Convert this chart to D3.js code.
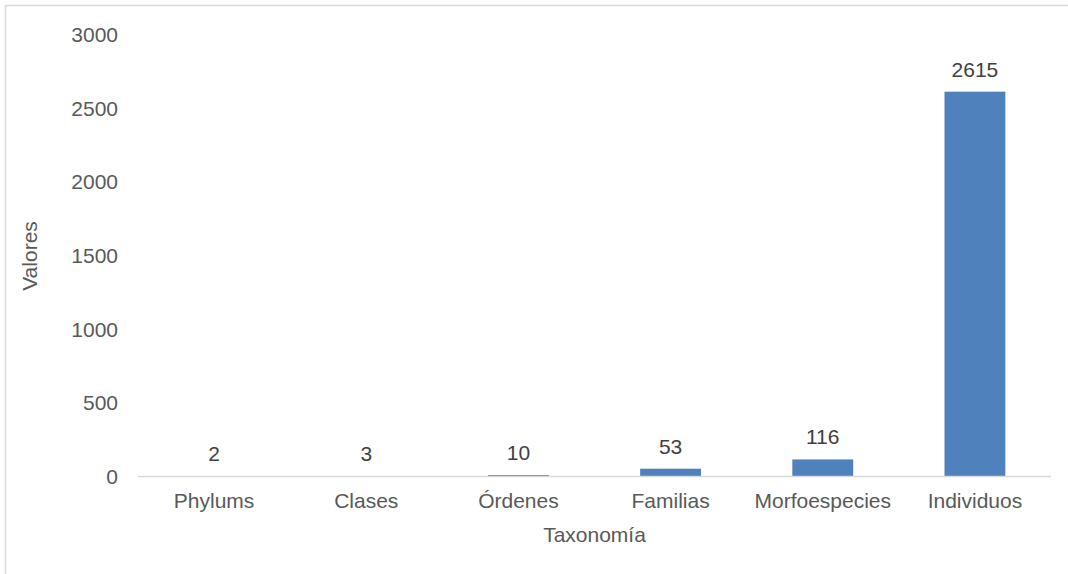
<!DOCTYPE html>
<meta charset="utf-8">
<script src="https://cdn.jsdelivr.net/npm/d3@7"></script>
<style>
  body { margin: 0; background: #fff; }
  text { font-family: "Liberation Sans", Arial, sans-serif; }
</style>
<body>
<script>
// data
var categories = ["Phylums", "Clases", "Órdenes", "Familias", "Morfoespecies", "Individuos"];
var values = [2, 3, 10, 53, 116, 2615];
var yTicks = [0, 500, 1000, 1500, 2000, 2500, 3000];

var W = 1068, H = 574;
var margin = {left: 138, right: 17, top: 35, bottom: 97.5};
var fs = "21px";

var svg = d3.select("body").append("svg")
    .attr("width", W)
    .attr("height", H);

// chart area outline
svg.append("rect")
    .attr("x", 5.5).attr("y", 5.5)
    .attr("width", W + 10).attr("height", H + 10)
    .style("fill", "none")
    .style("stroke", "#d9d9d9")
    .style("stroke-width", 1.5);

var x = d3.scaleBand()
    .domain(categories)
    .range([margin.left, W - margin.right])
    .paddingInner(0.6)
    .paddingOuter(0.3);

var y = d3.scaleLinear()
    .domain([0, 3000])
    .range([H - margin.bottom, margin.top]);

// y axis labels (no line, no ticks)
var yAxis = svg.append("g")
    .attr("transform", "translate(" + margin.left + ",0)")
    .call(d3.axisLeft(y).tickValues(yTicks).tickFormat(d3.format("d")).tickSize(0).tickPadding(20));
yAxis.select(".domain").remove();
yAxis.selectAll("text")
    .style("font-size", fs)
    .style("fill", "#595959");

// bars
svg.selectAll(".bar")
    .data(values)
    .enter().append("rect")
    .attr("class", "bar")
    .attr("x", function(d, i) { return x(categories[i]); })
    .attr("y", function(d) { return y(d); })
    .attr("width", x.bandwidth())
    .attr("height", function(d) { return y(0) - y(d); })
    .style("fill", "#4f81bd");

// value labels
svg.selectAll(".val")
    .data(values)
    .enter().append("text")
    .attr("class", "val")
    .attr("x", function(d, i) { return x(categories[i]) + x.bandwidth() / 2; })
    .attr("y", function(d) { return y(d) - 15; })
    .attr("text-anchor", "middle")
    .style("font-size", fs)
    .style("fill", "#404040")
    .text(function(d) { return d; });

// x axis
var xAxis = svg.append("g")
    .attr("transform", "translate(0," + y(0) + ")")
    .call(d3.axisBottom(x).tickSize(0).tickPadding(17));
xAxis.select(".domain")
    .attr("d", "M" + margin.left + ",0H" + (W - margin.right))
    .style("stroke", "#d9d9d9")
    .style("stroke-width", 1.5);
xAxis.selectAll("text")
    .style("font-size", fs)
    .style("fill", "#595959");

// axis titles
svg.append("text")
    .attr("x", (margin.left + W - margin.right) / 2)
    .attr("y", 542)
    .attr("text-anchor", "middle")
    .style("font-size", fs)
    .style("fill", "#595959")
    .text("Taxonomía");

svg.append("text")
    .attr("transform", "translate(37," + 256 + ") rotate(-90)")
    .attr("text-anchor", "middle")
    .style("font-size", fs)
    .style("fill", "#595959")
    .text("Valores");
</script>
</body>
